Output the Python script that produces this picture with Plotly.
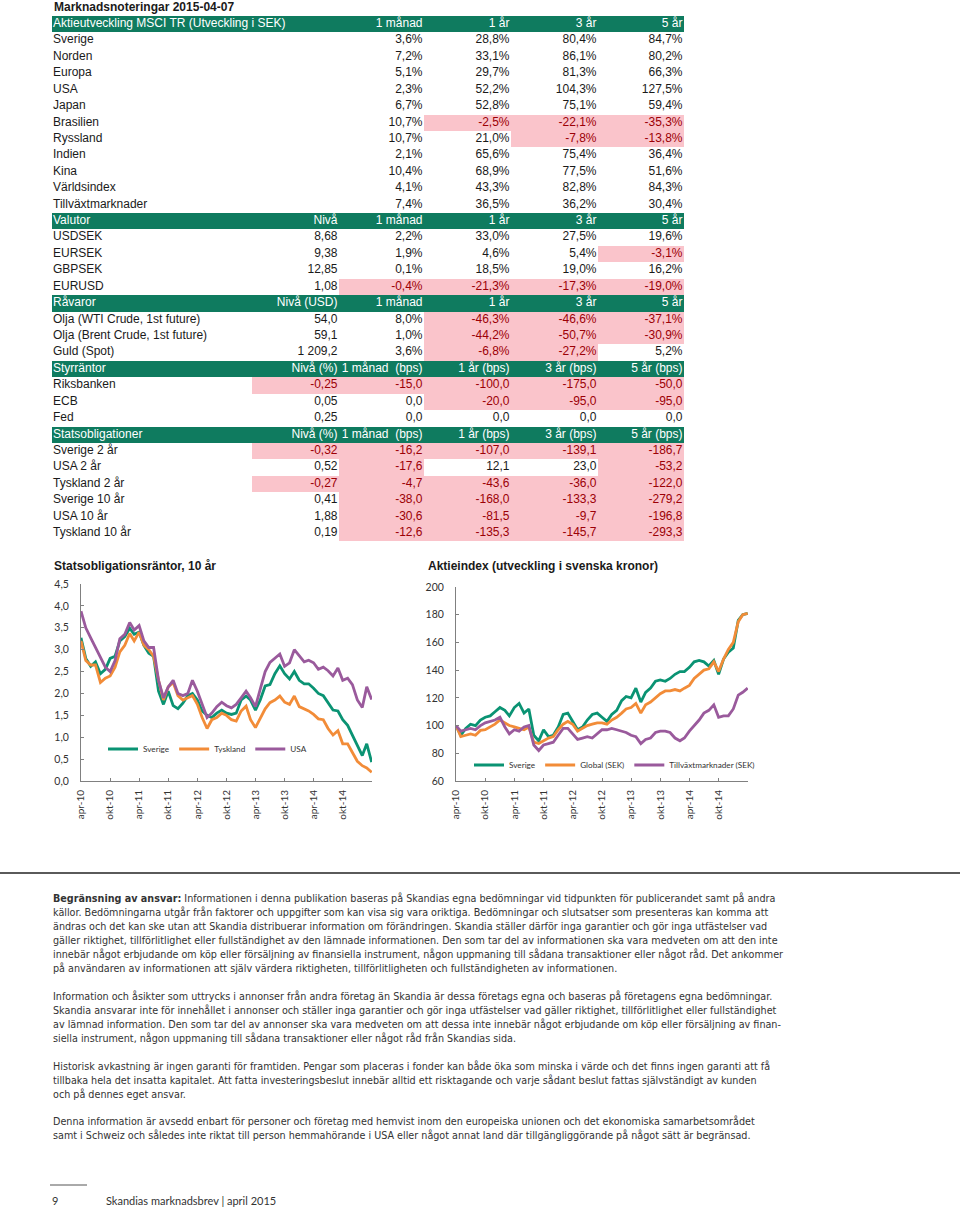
import plotly.graph_objects as go

# ------------------------------------------------------------------ data
TITLE = "Marknadsnoteringar 2015-04-07"

aktie_header = ["Aktieutveckling MSCI TR (Utveckling i SEK)", "", "1 månad", "1 år", "3 år", "5 år"]
aktie_names = ["Sverige", "Norden", "Europa", "USA", "Japan", "Brasilien", "Ryssland",
               "Indien", "Kina", "Världsindex", "Tillväxtmarknader"]
aktie_1m = [3.6, 7.2, 5.1, 2.3, 6.7, 10.7, 10.7, 2.1, 10.4, 4.1, 7.4]
aktie_1y = [28.8, 33.1, 29.7, 52.2, 52.8, -2.5, 21.0, 65.6, 68.9, 43.3, 36.5]
aktie_3y = [80.4, 86.1, 81.3, 104.3, 75.1, -22.1, -7.8, 75.4, 77.5, 82.8, 36.2]
aktie_5y = [84.7, 80.2, 66.3, 127.5, 59.4, -35.3, -13.8, 36.4, 51.6, 84.3, 30.4]

valuta_header = ["Valutor", "Nivå", "1 månad", "1 år", "3 år", "5 år"]
valuta_names = ["USDSEK", "EURSEK", "GBPSEK", "EURUSD"]
valuta_niva = [8.68, 9.38, 12.85, 1.08]
valuta_1m = [2.2, 1.9, 0.1, -0.4]
valuta_1y = [33.0, 4.6, 18.5, -21.3]
valuta_3y = [27.5, 5.4, 19.0, -17.3]
valuta_5y = [19.6, -3.1, 16.2, -19.0]

ravara_header = ["Råvaror", "Nivå (USD)", "1 månad", "1 år", "3 år", "5 år"]
ravara_names = ["Olja (WTI Crude, 1st future)", "Olja (Brent Crude, 1st future)", "Guld (Spot)"]
ravara_niva = [54.0, 59.1, 1209.2]
ravara_1m = [8.0, 1.0, 3.6]
ravara_1y = [-46.3, -44.2, -6.8]
ravara_3y = [-46.6, -50.7, -27.2]
ravara_5y = [-37.1, -30.9, 5.2]

styr_header = ["Styrräntor", "Nivå (%)", "1 månad  (bps)", "1 år (bps)", "3 år (bps)", "5 år (bps)"]
styr_names = ["Riksbanken", "ECB", "Fed"]
styr_niva = [-0.25, 0.05, 0.25]
styr_1m = [-15.0, 0.0, 0.0]
styr_1y = [-100.0, -20.0, 0.0]
styr_3y = [-175.0, -95.0, 0.0]
styr_5y = [-50.0, -95.0, 0.0]

stats_header = ["Statsobligationer", "Nivå (%)", "1 månad  (bps)", "1 år (bps)", "3 år (bps)", "5 år (bps)"]
stats_names = ["Sverige 2 år", "USA 2 år", "Tyskland 2 år", "Sverige 10 år", "USA 10 år", "Tyskland 10 år"]
stats_niva = [-0.32, 0.52, -0.27, 0.41, 1.88, 0.19]
stats_1m = [-16.2, -17.6, -4.7, -38.0, -30.6, -12.6]
stats_1y = [-107.0, 12.1, -43.6, -168.0, -81.5, -135.3]
stats_3y = [-139.1, 23.0, -36.0, -133.3, -9.7, -145.7]
stats_5y = [-186.7, -53.2, -122.0, -279.2, -196.8, -293.3]

# monthly observations, apr-10 .. apr-15
dates = [f"{2010 + (3 + i) // 12}-{(3 + i) % 12 + 1:02d}-07" for i in range(61)]

bond_sverige = [3.27, 2.80, 2.62, 2.72, 2.45, 2.55, 2.80, 2.85, 3.20, 3.30, 3.49, 3.35, 3.40, 3.10,
                2.92, 2.85, 2.05, 1.75, 2.05, 1.72, 1.65, 1.78, 1.95, 2.00, 1.85, 1.60, 1.50, 1.45,
                1.55, 1.62, 1.55, 1.52, 1.55, 1.85, 1.94, 1.85, 1.62, 1.85, 2.17, 2.20, 2.45, 2.63,
                2.45, 2.33, 2.50, 2.30, 2.22, 2.22, 2.12, 2.00, 1.95, 1.80, 1.62, 1.60, 1.40, 1.27,
                1.05, 0.80, 0.58, 0.85, 0.43]
bond_tyskland = [3.20, 2.75, 2.65, 2.65, 2.25, 2.35, 2.40, 2.60, 2.95, 3.10, 3.37, 3.20, 3.40, 3.10,
                 3.00, 2.85, 2.30, 1.85, 2.15, 2.25, 1.95, 1.85, 1.90, 1.95, 1.75, 1.45, 1.20, 1.40,
                 1.45, 1.55, 1.50, 1.40, 1.37, 1.60, 1.71, 1.40, 1.22, 1.45, 1.65, 1.79, 1.85, 1.94,
                 1.80, 1.75, 1.94, 1.70, 1.65, 1.60, 1.52, 1.42, 1.40, 1.20, 1.05, 1.15, 0.85, 0.85,
                 0.65, 0.45, 0.35, 0.30, 0.20]
bond_usa = [3.88, 3.50, 3.27, 3.05, 2.80, 2.60, 2.50, 2.75, 3.25, 3.35, 3.62, 3.45, 3.55, 3.20,
            3.05, 3.05, 2.30, 1.90, 2.15, 2.30, 2.00, 1.95, 2.00, 2.30, 2.05, 1.75, 1.45, 1.55,
            1.70, 1.80, 1.72, 1.67, 1.75, 1.90, 2.05, 1.90, 1.70, 2.10, 2.50, 2.71, 2.80, 2.90,
            2.62, 2.70, 3.00, 2.85, 2.72, 2.76, 2.70, 2.55, 2.60, 2.52, 2.40, 2.58, 2.30, 2.35,
            2.20, 1.85, 1.68, 2.15, 1.86]

eq_sverige = [100, 93, 98, 101, 100, 104, 106, 107, 110, 113, 111, 107, 113, 116, 109, 112, 93, 89,
              97, 92, 93, 99, 108, 109, 103, 97, 99, 104, 108, 109, 106, 103, 108, 111, 118, 121,
              120, 127, 117, 124, 127, 132, 133, 132, 134, 137, 139, 139, 142, 146, 147, 146, 143,
              147, 137, 148, 153, 156, 176, 180, 181]
eq_global = [100, 92, 93, 94, 93, 96.5, 97, 99, 101, 104, 102, 100, 99, 98, 97, 99, 88, 87, 89, 91,
             92, 97, 101, 103, 101, 96, 98, 100, 101, 102, 102, 101, 104, 106, 109, 112, 113, 116,
             109, 115, 117, 120, 123, 125, 125, 126, 125, 127, 129, 134, 137, 140, 141, 146, 139,
             148, 155, 160, 175, 180, 181]
eq_tillvaxt = [100, 96, 97, 98, 97, 100, 102, 103, 104, 106, 99, 94, 97, 96, 99, 100, 86, 82, 86, 87,
               88, 93, 98, 98, 94, 90, 91, 92, 91, 94, 97, 97, 98, 97, 96, 95, 93, 92, 87, 90, 91,
               95, 96, 96, 95, 91, 89, 91, 96, 100, 104, 109, 111, 115, 106, 107, 107, 112, 122,
               124, 127]

tick_dates = ["2010-04-07", "2010-10-07", "2011-04-07", "2011-10-07", "2012-04-07",
              "2012-10-07", "2013-04-07", "2013-10-07", "2014-04-07", "2014-10-07"]
tick_text = ["apr-10", "okt-10", "apr-11", "okt-11", "apr-12",
             "okt-12", "apr-13", "okt-13", "apr-14", "okt-14"]

disclaimer_1 = [
    "<b>Begränsning av ansvar:</b> Informationen i denna publikation baseras på Skandias egna bedömningar vid tidpunkten för publicerandet samt på andra",
    "källor. Bedömningarna utgår från faktorer och uppgifter som kan visa sig vara oriktiga. Bedömningar och slutsatser som presenteras kan komma att",
    "ändras och det kan ske utan att Skandia distribuerar information om förändringen. Skandia ställer därför inga garantier och gör inga utfästelser vad",
    "gäller riktighet, tillförlitlighet eller fullständighet av den lämnade informationen. Den som tar del av informationen ska vara medveten om att den inte",
    "innebär något erbjudande om köp eller försäljning av finansiella instrument, någon uppmaning till sådana transaktioner eller något råd. Det ankommer",
    "på användaren av informationen att själv värdera riktigheten, tillförlitligheten och fullständigheten av informationen.",
]
disclaimer_2 = [
    "Information och åsikter som uttrycks i annonser från andra företag än Skandia är dessa företags egna och baseras på företagens egna bedömningar.",
    "Skandia ansvarar inte för innehållet i annonser och ställer inga garantier och gör inga utfästelser vad gäller riktighet, tillförlitlighet eller fullständighet",
    "av lämnad information. Den som tar del av annonser ska vara medveten om att dessa inte innebär något erbjudande om köp eller försäljning av finan-",
    "siella instrument, någon uppmaning till sådana transaktioner eller något råd från Skandias sida.",
]
disclaimer_3 = [
    "Historisk avkastning är ingen garanti för framtiden. Pengar som placeras i fonder kan både öka som minska i värde och det finns ingen garanti att få",
    "tillbaka hela det insatta kapitalet. Att fatta investeringsbeslut innebär alltid ett risktagande och varje sådant beslut fattas självständigt av kunden",
    "och på dennes eget ansvar.",
]
disclaimer_4 = [
    "Denna information är avsedd enbart för personer och företag med hemvist inom den europeiska unionen och det ekonomiska samarbetsområdet",
    "samt i Schweiz och således inte riktat till person hemmahörande i USA eller något annat land där tillgängliggörande på något sätt är begränsad.",
]
footer_page = "9"
footer_text = "Skandias marknadsbrev | april 2015"

# ------------------------------------------------------------------ style
W, H = 960, 1208
GREEN_HEAD = "#0f7b5f"
PINK = "#fac4cb"
DARK_RED = "#9c0006"
TXT = "#1a1a1a"
C_GREEN = "#0a9373"
C_ORANGE = "#f28c38"
C_PURPLE = "#9a5a9c"
TABLE_FONT = "Liberation Sans, Arial, sans-serif"
CHART_FONT = "Lato, Open Sans, sans-serif"
NARROW_FONT = "DejaVu Sans Condensed, sans-serif"


def fmt(v, dec, suffix=""):
    if v is None:
        return ""
    return f"{v:,.{dec}f}".replace(",", " ").replace(".", ",") + suffix


sections = [
    (aktie_header, aktie_names, [None] * len(aktie_names), None,
     [aktie_1m, aktie_1y, aktie_3y, aktie_5y], 1, "%"),
    (valuta_header, valuta_names, valuta_niva, 2,
     [valuta_1m, valuta_1y, valuta_3y, valuta_5y], 1, "%"),
    (ravara_header, ravara_names, ravara_niva, 1,
     [ravara_1m, ravara_1y, ravara_3y, ravara_5y], 1, "%"),
    (styr_header, styr_names, styr_niva, 2,
     [styr_1m, styr_1y, styr_3y, styr_5y], 1, ""),
    (stats_header, stats_names, stats_niva, 2,
     [stats_1m, stats_1y, stats_3y, stats_5y], 1, ""),
]

rows = []  # each: (is_header, [6 texts], [6 negative flags])
for header, names, niva, ndec, cols, dec, suf in sections:
    rows.append((True, header, [False] * 6))
    for i, name in enumerate(names):
        vals = [niva[i]] + [c[i] for c in cols]
        texts = [name, fmt(niva[i], ndec)] + [fmt(c[i], dec, suf) for c in cols]
        negs = [False] + [(v is not None and v < 0) for v in vals]
        rows.append((False, texts, negs))

N = len(rows)
ROW_H = 16.42
TOP = 15.8
COL_EDGES = [0, 200, 287, 372, 459, 546, 632]
TX0, TX1 = 52, 684

fig = go.Figure()

# header bands
head_idx = [i for i, r in enumerate(rows) if r[0]]
fig.add_trace(go.Bar(orientation="h", y=head_idx, x=[COL_EDGES[-1]] * len(head_idx), base=0,
                     width=1, marker=dict(color=GREEN_HEAD, line=dict(width=0)),
                     xaxis="x3", yaxis="y3", hoverinfo="skip", showlegend=False))
# pink negative cells
for c in range(1, 6):
    idx = [i for i, r in enumerate(rows) if r[2][c]]
    if not idx:
        continue
    w = COL_EDGES[c + 1] - COL_EDGES[c]
    fig.add_trace(go.Bar(orientation="h", y=idx, x=[w] * len(idx), base=COL_EDGES[c], width=1,
                         marker=dict(color=PINK, line=dict(width=0)),
                         xaxis="x3", yaxis="y3", hoverinfo="skip", showlegend=False))
# texts
for c in range(6):
    texts = [r[1][c] for r in rows]
    colors = ["white" if r[0] else (DARK_RED if r[2][c] else TXT) for r in rows]
    if c == 0:
        xs, pos = [1] * N, "middle right"
    else:
        xs, pos = [COL_EDGES[c + 1] - 1.5] * N, "middle left"
    fig.add_trace(go.Scatter(x=xs, y=list(range(N)), mode="text", text=texts, textposition=pos,
                             textfont=dict(family=TABLE_FONT, size=12, color=colors),
                             marker=dict(size=1), cliponaxis=False,
                             xaxis="x3", yaxis="y3", hoverinfo="skip", showlegend=False))

# ------------------------------------------------------------------ charts
for name, ys, col in [("Sverige", bond_sverige, C_GREEN), ("Tyskland", bond_tyskland, C_ORANGE),
                      ("USA", bond_usa, C_PURPLE)]:
    fig.add_trace(go.Scatter(x=dates, y=ys, name=name, mode="lines",
                             line=dict(color=col, width=2.8), xaxis="x", yaxis="y",
                             legend="legend"))
for name, ys, col in [("Sverige", eq_sverige, C_GREEN), ("Global (SEK)", eq_global, C_ORANGE),
                      ("Tillväxtmarknader (SEK)", eq_tillvaxt, C_PURPLE)]:
    fig.add_trace(go.Scatter(x=dates, y=ys, name=name, mode="lines",
                             line=dict(color=col, width=2.8), xaxis="x2", yaxis="y2",
                             legend="legend2"))


def px_x(p):
    return p / W


def px_y(p):
    return 1 - p / H


axis_common = dict(showline=True, linecolor="#808080", linewidth=1, ticks="inside", ticklen=3,
                   tickcolor="#808080", showgrid=False, zeroline=False, fixedrange=True,
                   automargin=False,
                   tickfont=dict(family=CHART_FONT, size=10.5, color="#333333"))
xcommon = dict(axis_common, type="date", tickvals=tick_dates, ticktext=tick_text, tickangle=-90,
               range=["2010-04-07", "2015-04-09"], ticklabelstandoff=4,
               tickfont=dict(family=CHART_FONT, size=10, color="#333333"))

layout = dict(
    width=W, height=H, margin=dict(l=0, r=0, t=0, b=0, pad=0, autoexpand=False),
    paper_bgcolor="white",
    plot_bgcolor="rgba(0,0,0,0)", separators=", ", barmode="overlay", bargap=0,
    xaxis=dict(xcommon, domain=[px_x(81), px_x(372)], anchor="y"),
    yaxis=dict(axis_common, domain=[px_y(781), px_y(584)], range=[0, 4.5], dtick=0.5,
               tickformat=".1f", anchor="x", ticklabelstandoff=9),
    xaxis2=dict(xcommon, domain=[px_x(456), px_x(748)], anchor="y2"),
    yaxis2=dict(axis_common, domain=[px_y(781), px_y(587)], range=[60, 200], dtick=20,
                anchor="x2", ticklabelstandoff=9),
    xaxis3=dict(domain=[px_x(TX0), px_x(TX1)], range=[0, COL_EDGES[-1]], visible=False,
                fixedrange=True, anchor="y3", automargin=False),
    yaxis3=dict(domain=[px_y(TOP + ROW_H * N), px_y(TOP)], range=[N - 0.5, -0.5], visible=False,
                fixedrange=True, anchor="x3", automargin=False),
    legend=dict(orientation="h", x=px_x(103), y=px_y(749), xanchor="left", yanchor="middle",
                bgcolor="rgba(0,0,0,0)", itemwidth=30,
                font=dict(family=CHART_FONT, size=8.2, color="#333333")),
    legend2=dict(orientation="h", x=px_x(469), y=px_y(765), xanchor="left", yanchor="middle",
                 bgcolor="rgba(0,0,0,0)", itemwidth=30,
                 font=dict(family=CHART_FONT, size=8.2, color="#333333")),
)

annotations = [
    dict(text=f"<b>{TITLE}</b>", x=px_x(52), y=px_y(7), font=dict(family=TABLE_FONT, size=12, color=TXT)),
    dict(text="<b>Statsobligationsräntor, 10 år</b>", x=px_x(52), y=px_y(566),
         font=dict(family=TABLE_FONT, size=12, color=TXT)),
    dict(text="<b>Aktieindex (utveckling i svenska kronor)</b>", x=px_x(426), y=px_y(566),
         font=dict(family=TABLE_FONT, size=12, color=TXT)),
]
for start, lines in [(898, disclaimer_1), (996, disclaimer_2), (1066, disclaimer_3), (1121, disclaimer_4)]:
    for k, line in enumerate(lines):
        annotations.append(dict(text=line, x=px_x(51), y=px_y(start + 14 * k),
                                font=dict(family=NARROW_FONT, size=10.7, color="#333333")))
annotations.append(dict(text=footer_page, x=px_x(50), y=px_y(1200),
                        font=dict(family=CHART_FONT, size=11, color="#333333")))
annotations.append(dict(text=footer_text, x=px_x(104), y=px_y(1200),
                        font=dict(family=CHART_FONT, size=11, color="#333333")))
for a in annotations:
    a.update(xref="paper", yref="paper", xanchor="left", yanchor="middle", showarrow=False)
layout["annotations"] = annotations

layout["shapes"] = [
    dict(type="line", xref="paper", yref="paper", x0=0, x1=1, y0=px_y(873), y1=px_y(873),
         line=dict(color="#5a5a5a", width=2)),
    dict(type="line", xref="paper", yref="paper", x0=px_x(50), x1=px_x(87), y0=px_y(1185),
         y1=px_y(1185), line=dict(color="#555555", width=1)),
]

fig.update_layout(**layout)
page_css = ("var s=document.createElement('style');"
            "s.textContent='html,body{margin:0!important;padding:0!important;overflow:hidden!important;}';"
            "document.head.appendChild(s);")
fig.write_html("out.html", config={"displayModeBar": False}, post_script=page_css)
